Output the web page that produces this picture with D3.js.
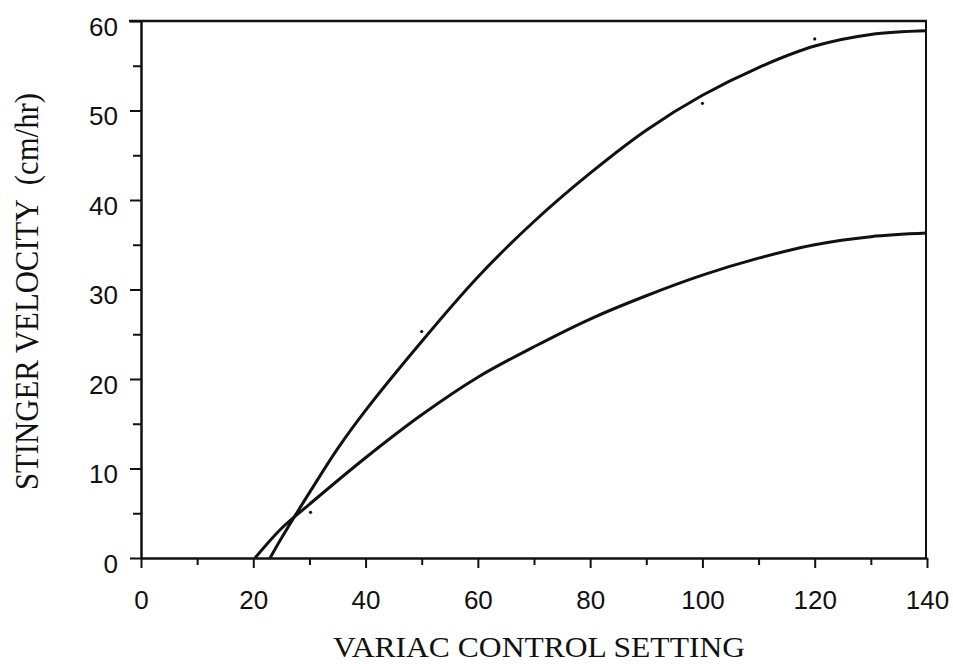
<html>
<head>
<script src="https://d3js.org/d3.v7.min.js"></script>
<style>
	body {margin: 0; background: #fff;}
	svg {display: block;}
</style>
</head>
<body>
<div id="chart"></div>
<script>
// values
var xTicks = [0, 20, 40, 60, 80, 100, 120, 140];
var yTicks = [0, 10, 20, 30, 40, 50, 60];

var upperX = [23, 25, 30, 35, 40, 50, 60, 70, 80, 90, 100, 110, 120, 130, 140];
var upperY = [0, 2.2, 7.3, 12.2, 16.5, 24.2, 31.4, 37.6, 43, 47.8, 51.7, 54.8, 57.2, 58.5, 58.9];

var lowerX = [20.3, 25, 30, 40, 50, 60, 70, 80, 90, 100, 110, 120, 130, 140];
var lowerY = [0, 3.3, 6.0, 11.2, 16.0, 20.2, 23.6, 26.7, 29.3, 31.6, 33.5, 35, 35.9, 36.3];

var dotX = [30.2, 50, 100, 120];
var dotY = [5.1, 25.3, 50.8, 58];

var width = 953, height = 664;
// plot box edges (note: "top" is reserved on window, so use other names)
var plotLeft = 141, plotRight = 927, plotTop = 21, plotBottom = 558;

var svg = d3.select("#chart").append("svg")
	.attr("width", width)
	.attr("height", height);

var xScale = d3.scaleLinear().domain([0, 140]).range([plotLeft, plotRight]);
var yScale = d3.scaleLinear().domain([0, 60]).range([plotBottom, plotTop]);

// frame on top and right
svg.append("line")
	.attr("x1", xScale(0) - 12).attr("x2", xScale(140))
	.attr("y1", yScale(60)).attr("y2", yScale(60))
	.style("stroke", "#111").style("stroke-width", 2.5);
svg.append("line")
	.attr("x1", xScale(140) - 1).attr("x2", xScale(140) - 1)
	.attr("y1", yScale(60)).attr("y2", yScale(0))
	.style("stroke", "#111").style("stroke-width", 2);

// minor ticks every 10 on x, every 5 on y
svg.append("g")
	.attr("transform", "translate(0," + plotBottom + ")")
	.call(d3.axisBottom(xScale).tickValues(d3.range(10, 140, 20)).tickSize(7).tickFormat(""))
	.call(function(g) { g.select(".domain").remove(); })
	.selectAll("line").style("stroke-width", 2).style("stroke", "#111");
svg.append("g")
	.attr("transform", "translate(" + plotLeft + ",0)")
	.call(d3.axisLeft(yScale).tickValues(d3.range(5, 60, 10)).tickSize(8).tickFormat(""))
	.call(function(g) { g.select(".domain").remove(); })
	.selectAll("line").style("stroke-width", 2).style("stroke", "#111");

// main axes
var xAxis = svg.append("g")
	.attr("transform", "translate(0," + plotBottom + ")")
	.call(d3.axisBottom(xScale).tickValues(xTicks).tickSize(10).tickSizeOuter(0).tickPadding(23));
var yAxis = svg.append("g")
	.attr("transform", "translate(" + plotLeft + ",0)")
	.call(d3.axisLeft(yScale).tickValues(yTicks).tickSize(11).tickSizeOuter(0).tickPadding(12));

[xAxis, yAxis].forEach(function(a) {
	a.select(".domain").style("stroke", "#111").style("stroke-width", 2.5);
	a.selectAll("line").style("stroke", "#111").style("stroke-width", 2);
	a.selectAll("text")
		.style("font-family", "'Liberation Sans', Arial, sans-serif")
		.style("font-size", "26px")
		.style("fill", "#111");
});
yAxis.selectAll("text").attr("dy", "0.55em");

// curves
var line = d3.line()
	.x(function(d) { return xScale(d[0]); })
	.y(function(d) { return yScale(d[1]); })
	.curve(d3.curveCatmullRom.alpha(0.5));

[[upperX, upperY], [lowerX, lowerY]].forEach(function(s) {
	var pts = s[0].map(function(x, i) { return [x, s[1][i]]; });
	svg.append("path")
		.attr("d", line(pts))
		.style("fill", "none")
		.style("stroke", "#111")
		.style("stroke-width", 3);
});

// stray data marks
dotX.forEach(function(x, i) {
	svg.append("circle")
		.attr("cx", xScale(x))
		.attr("cy", yScale(dotY[i]))
		.attr("r", 1.6)
		.style("fill", "#111");
});

// axis titles
svg.append("text")
	.attr("x", 333)
	.attr("y", 657)
	.attr("textLength", 412)
	.attr("lengthAdjust", "spacingAndGlyphs")
	.style("font-family", "'Liberation Serif', 'Times New Roman', serif")
	.style("font-size", "30px")
	.style("fill", "#111")
	.text("VARIAC CONTROL SETTING");

svg.append("text")
	.attr("transform", "translate(38,490) rotate(-90)")
	.attr("textLength", 397)
	.attr("lengthAdjust", "spacingAndGlyphs")
	.style("font-family", "'Liberation Serif', 'Times New Roman', serif")
	.style("font-size", "33px")
	.style("fill", "#111")
	.style("white-space", "pre")
	.text("STINGER VELOCITY  (cm/hr)");
</script>
</body>
</html>
